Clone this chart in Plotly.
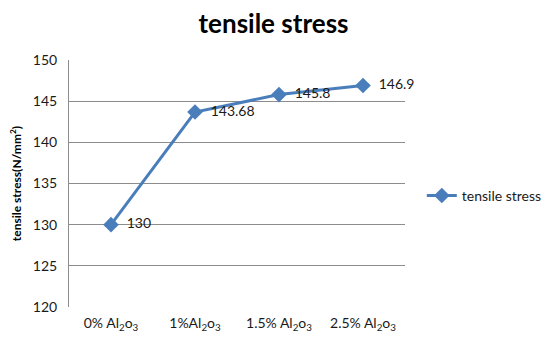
import plotly.graph_objects as go

categories = ["0% Al<sub>2</sub>o<sub>3</sub>", "1%Al<sub>2</sub>o<sub>3</sub>",
              "1.5% Al<sub>2</sub>o<sub>3</sub>", "2.5% Al<sub>2</sub>o<sub>3</sub>"]
tensile_stress = [130, 143.68, 145.8, 146.9]
point_labels = ["130", "143.68", "145.8", "146.9"]
y_ticks = [120, 125, 130, 135, 140, 145, 150]

blue = "#4a7ebb"
font_family = "Lato, Open Sans, Liberation Sans, Arial, sans-serif"
text_color = "#1a1a1a"

fig = go.Figure()
fig.add_trace(go.Scatter(
    x=list(range(len(categories))),
    y=tensile_stress,
    mode="lines+markers+text",
    name="tensile stress",
    line=dict(color=blue, width=3),
    marker=dict(symbol="diamond", size=12, color=blue),
    text=["  " + t for t in point_labels],
    textposition="middle right",
    textfont=dict(size=14, color=text_color, family=font_family),
    cliponaxis=False,
))

fig.update_layout(
    width=547, height=337,
    margin=dict(l=69, r=142, t=60, b=30, autoexpand=False),
    paper_bgcolor="white", plot_bgcolor="white",
    font=dict(family=font_family, color=text_color),
    title=dict(text="<b>tensile stress</b>", x=0.5, xanchor="center",
               y=0.93, yanchor="middle",
               font=dict(size=26, color="#000000", family=font_family)),
    showlegend=True,
    legend=dict(x=1.05, y=0.45, xanchor="left", yanchor="middle",
                font=dict(size=14, color=text_color),
                bgcolor="rgba(0,0,0,0)", itemwidth=30),
    xaxis=dict(
        tickmode="array", tickvals=list(range(len(categories))), ticktext=categories,
        range=[-0.5, 3.5], showgrid=False, zeroline=False, showline=False,
        ticks="", tickfont=dict(size=14, color=text_color), ticklabelstandoff=6,
        automargin=False,
    ),
    yaxis=dict(
        range=[120, 150], tickvals=y_ticks, showgrid=True, gridcolor="#8c8c8c",
        gridwidth=1, zeroline=False, showline=True, linecolor="#8c8c8c",
        linewidth=1, ticks="", tickfont=dict(size=14, color=text_color),
        ticklabelstandoff=8, automargin=False,
        title=dict(text="<b>tensile stress(N/mm<sup>2</sup>)</b>",
                   font=dict(size=12, color="#000000"), standoff=8),
    ),
)

fig.write_html("out.html")
